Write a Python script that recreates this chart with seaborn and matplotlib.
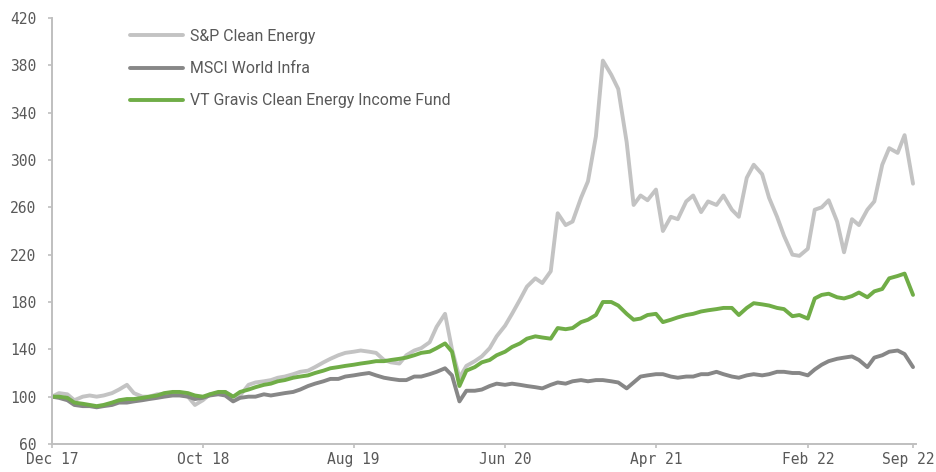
import matplotlib
matplotlib.use("Agg")
import matplotlib.pyplot as plt
import matplotlib.transforms as mtransforms
import seaborn as sns
import pandas as pd
import numpy as np

# semi-monthly observations, Dec 2017 -> Sep 2022
start_date = "2017-12-01"
n_points = 115

sp_clean_energy = [
    100, 103, 102, 97, 100, 101, 100, 101, 103, 106,
    110, 103, 100, 100, 102, 102, 103, 102, 100, 93,
    97, 102, 103, 104, 100, 101, 110, 112, 113, 114,
    116, 117, 119, 121, 122, 125, 129, 132, 135, 137,
    138, 139, 138, 137, 131, 129, 128, 135, 139, 141,
    146, 159, 170, 140, 116, 126, 130, 134, 141, 151,
    160, 170, 182, 193, 200, 196, 206, 255, 245, 248,
    268, 282, 320, 384, 372, 360, 315, 262, 270, 266,
    275, 240, 252, 250, 265, 270, 256, 265, 262, 270,
    258, 252, 285, 296, 288, 268, 252, 236, 220, 219,
    225, 258, 260, 266, 248, 222, 250, 245, 258, 265,
    296, 310, 306, 321, 280,
]

msci_world_infra = [
    100, 99, 97, 93, 92, 92, 91, 92, 93, 95,
    95, 96, 97, 98, 99, 100, 101, 101, 100, 98,
    99, 101, 102, 101, 96, 99, 100, 100, 102, 101,
    102, 103, 104, 106, 109, 111, 113, 115, 115, 117,
    118, 119, 120, 118, 116, 115, 114, 114, 117, 117,
    119, 121, 124, 118, 96, 105, 105, 106, 109, 111,
    110, 111, 110, 109, 108, 107, 110, 112, 111, 113,
    114, 113, 114, 114, 113, 112, 107, 112, 117, 118,
    119, 119, 117, 116, 117, 117, 119, 119, 121, 119,
    117, 116, 118, 119, 118, 119, 121, 121, 120, 120,
    118, 123, 127, 130, 132, 133, 134, 131, 125, 133,
    135, 138, 139, 136, 125,
]

vt_gravis = [
    100, 100, 99, 95, 94, 93, 92, 93, 95, 97,
    98, 98, 99, 100, 101, 103, 104, 104, 103, 101,
    100, 102, 104, 104, 100, 104, 106, 108, 110, 111,
    113, 114, 116, 117, 118, 120, 122, 124, 125, 126,
    127, 128, 129, 130, 130, 131, 132, 133, 135, 137,
    138, 141, 145, 138, 109, 122, 125, 129, 131, 135,
    138, 142, 145, 149, 151, 150, 149, 158, 157, 158,
    163, 165, 169, 180, 180, 177, 170, 165, 166, 169,
    170, 163, 165, 167, 169, 170, 172, 173, 174, 175,
    175, 169, 175, 179, 178, 177, 175, 174, 168, 169,
    166, 183, 186, 187, 184, 183, 185, 188, 184, 189,
    191, 200, 202, 204, 186,
]

series_names = ["S&P Clean Energy", "MSCI World Infra", "VT Gravis Clean Energy Income Fund"]
series_colors = ["#c3c3c3", "#878787", "#70ad47"]

tick_dates = ["2017-12-01", "2018-10-01", "2019-08-01", "2020-06-01",
              "2021-04-01", "2022-02-01", "2022-09-01"]
tick_labels = ["Dec 17", "Oct 18", "Aug 19", "Jun 20", "Apr 21", "Feb 22", "Sep 22"]
y_ticks = [60, 100, 140, 180, 220, 260, 300, 340, 380, 420]

dates = pd.date_range(start_date, periods=n_points, freq="SMS")
frames = []
for name, vals in zip(series_names, [sp_clean_energy, msci_world_infra, vt_gravis]):
    frames.append(pd.DataFrame({"date": dates, "value": vals, "series": name}))
df = pd.concat(frames, ignore_index=True)

sns.set_theme(style="ticks")
plt.rcParams["font.family"] = ["DejaVu Sans Mono"]

fig = plt.figure(figsize=(9.36, 4.72), dpi=100)
ax = fig.add_axes([52 / 936, 1 - 444 / 472, (916 - 52) / 936, (444 - 18) / 472])

sns.lineplot(data=df, x="date", y="value", hue="series", hue_order=series_names,
             palette=dict(zip(series_names, series_colors)), linewidth=2.8,
             ax=ax, legend=False)

ax.set_ylim(60, 420)
ax.set_yticks(y_ticks)
ax.set_xlim(dates[0], dates[-1] + pd.Timedelta(days=6))
ax.set_xticks(pd.to_datetime(tick_dates))
ax.set_xticklabels(tick_labels)
ax.set_xlabel("")
ax.set_ylabel("")

for s in ["top", "right"]:
    ax.spines[s].set_visible(False)
for s in ["left", "bottom"]:
    ax.spines[s].set_color("#bfbfbf")
    ax.spines[s].set_linewidth(1.4)
ax.tick_params(axis="both", colors="#bfbfbf", length=3, width=1.2,
               labelcolor="#595959", labelsize=10.5)
ax.tick_params(axis="y", pad=8.5)
ax.tick_params(axis="x", pad=3)

# keep the last x label inside the canvas
last = ax.get_xticklabels()[-1]
last.set_transform(last.get_transform() + mtransforms.ScaledTranslation(-5 / 100, 0, fig.dpi_scale_trans))

handles = [plt.Line2D([0], [0], color=c, linewidth=2.8) for c in series_colors]
leg = fig.legend(handles, series_names, loc="upper left",
                 bbox_to_anchor=(130 / 936, 1 - 29 / 472), frameon=False,
                 borderpad=0, borderaxespad=0, handlelength=3.35, handletextpad=0.45,
                 labelspacing=1.08, prop={"family": "Roboto", "size": 11.4})
for t in leg.get_texts():
    t.set_color("#595959")

fig.savefig("out.png", dpi=100)
